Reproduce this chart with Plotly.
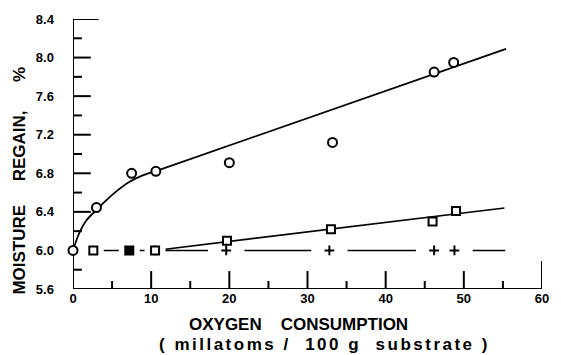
import plotly.graph_objects as go

# ---- data ----
circle_x = [0.0, 3.0, 7.5, 10.6, 20.0, 33.2, 46.2, 48.7]
circle_y = [6.00, 6.445, 6.80, 6.82, 6.91, 7.12, 7.85, 7.95]

square_open_x = [2.6, 10.5, 19.7, 33.0, 46.0, 49.0]
square_open_y = [6.00, 6.00, 6.10, 6.22, 6.30, 6.41]

square_filled_x = [7.2]
square_filled_y = [6.00]

plus_x = [10.5, 19.6, 32.8, 46.2, 48.8]
plus_y = [6.00, 6.00, 6.00, 6.00, 6.00]

# fitted curves
circle_curve_x = [0.0, 0.8, 1.7, 3.0, 4.0, 5.5, 7.2, 9.0, 10.5]
circle_curve_y = [6.00, 6.18, 6.31, 6.42, 6.50, 6.61, 6.71, 6.78, 6.82]
circle_line_x = [10.5, 55.4]
circle_line_y = [6.82, 8.09]

square_line_x = [10.5, 55.2]
square_line_y = [6.00, 6.44]

base_line_x = [0.0, 55.3]
base_line_y = [6.00, 6.00]

# axis ticks
x_ticks = [0, 10, 20, 30, 40, 50, 60]
x_minor_ticks = [5, 15, 25, 35, 45, 55]
y_ticks = [5.6, 6.0, 6.4, 6.8, 7.2, 7.6, 8.0, 8.4]
y_minor_ticks = [5.8, 6.2, 6.6, 7.0, 7.4, 7.8, 8.2]

FONT = "Liberation Sans"
BLACK = "black"
NBSP = "\u00a0"

W, H = 561, 355
ML, MR, MT, MB = 73, 13, 18, 66
X0, X1 = x_ticks[0], x_ticks[-1]
Y0, Y1 = y_ticks[0], y_ticks[-1]
# pixel -> data-unit conversions for tick lengths
px_x = (X1 - X0) / (W - ML - MR)
px_y = (Y1 - Y0) / (H - MT - MB)

fig = go.Figure()

# ---- axis frame and inward ticks drawn on the data axes ----
def seg_lists(pairs):
    xs, ys = [], []
    for (xa, ya), (xb, yb) in pairs:
        xs += [xa, xb, None]
        ys += [ya, yb, None]
    return xs, ys

frame = [((X0, Y0), (X0, Y1)), ((X0, Y0), (X1, Y0))]
for v in y_ticks[:-1]:
    frame.append(((X0, v), (X0 + 18 * px_x, v)))
frame.append(((X0, Y1), (X0 + 26 * px_x, Y1)))
for v in y_minor_ticks:
    frame.append(((X0, v), (X0 + 9 * px_x, v)))
for v in x_ticks[1:-1]:
    frame.append(((v, Y0), (v, Y0 + 18 * px_y)))
frame.append(((X1, Y0), (X1, Y0 + 28 * px_y)))
for v in x_minor_ticks:
    frame.append(((v, Y0), (v, Y0 + 8 * px_y)))
fx, fy = seg_lists(frame)
fig.add_trace(go.Scatter(x=fx, y=fy, mode="lines", cliponaxis=False,
                         line=dict(color=BLACK, width=2), hoverinfo="skip"))

# ---- data lines ----
fig.add_trace(go.Scatter(x=base_line_x, y=base_line_y, mode="lines",
                         line=dict(color=BLACK, width=1.6), hoverinfo="skip"))
fig.add_trace(go.Scatter(x=circle_curve_x, y=circle_curve_y, mode="lines",
                         line=dict(color=BLACK, width=1.8, shape="spline", smoothing=1.0),
                         hoverinfo="skip"))
fig.add_trace(go.Scatter(x=circle_line_x, y=circle_line_y, mode="lines",
                         line=dict(color=BLACK, width=1.8), hoverinfo="skip"))
fig.add_trace(go.Scatter(x=square_line_x, y=square_line_y, mode="lines",
                         line=dict(color=BLACK, width=1.6), hoverinfo="skip"))

# white gaps in the y=6.0 line around markers
gap_small_x = [circle_x[0]] + square_open_x[:2] + square_filled_x
gap_small_y = [circle_y[0]] + square_open_y[:2] + square_filled_y
fig.add_trace(go.Scatter(x=gap_small_x, y=gap_small_y, mode="markers",
                         marker=dict(symbol="line-ew", size=15,
                                     line=dict(color="white", width=6)),
                         hoverinfo="skip"))
fig.add_trace(go.Scatter(x=plus_x[1:], y=plus_y[1:], mode="markers",
                         marker=dict(symbol="line-ew", size=26,
                                     line=dict(color="white", width=6)),
                         hoverinfo="skip"))

# ---- markers ----
fig.add_trace(go.Scatter(x=plus_x, y=plus_y, mode="markers",
                         marker=dict(symbol="cross-thin", size=7,
                                     line=dict(color=BLACK, width=2))))
fig.add_trace(go.Scatter(x=circle_x, y=circle_y, mode="markers", cliponaxis=False,
                         marker=dict(symbol="circle", size=9, color="white",
                                     line=dict(color=BLACK, width=2))))
fig.add_trace(go.Scatter(x=square_open_x, y=square_open_y, mode="markers",
                         marker=dict(symbol="square", size=8, color="white",
                                     line=dict(color=BLACK, width=2))))
fig.add_trace(go.Scatter(x=square_filled_x, y=square_filled_y, mode="markers",
                         marker=dict(symbol="square", size=8, color=BLACK,
                                     line=dict(color=BLACK, width=2))))

tickfont = dict(family=FONT, size=13, color=BLACK)

fig.update_layout(
    width=W, height=H,
    margin=dict(l=ML, r=MR, t=MT, b=MB),
    paper_bgcolor="white", plot_bgcolor="white",
    showlegend=False,
    xaxis=dict(range=[X0, X1], tickmode="array", tickvals=x_ticks,
               ticktext=[f"<b>{v}</b>" for v in x_ticks],
               ticks="", showline=False, showgrid=False,
               zeroline=False, tickfont=tickfont),
    yaxis=dict(range=[Y0, Y1], tickmode="array", tickvals=y_ticks,
               ticktext=[f"<b>{v:.1f}</b>" + NBSP * 5 for v in y_ticks],
               ticks="", showline=False, showgrid=False,
               zeroline=False, tickfont=tickfont),
)

titlefont = dict(family=FONT, size=17, color=BLACK)
fig.add_annotation(text="<b>MOISTURE     REGAIN,      %</b>", xref="paper", yref="paper",
                   x=-0.116, y=0.40, textangle=-90, showarrow=False,
                   font=titlefont, xanchor="center", yanchor="middle")
fig.add_annotation(text="<b>OXYGEN    CONSUMPTION</b>", xref="paper", yref="paper",
                   x=0.48, y=-0.133, showarrow=False, font=titlefont,
                   xanchor="center", yanchor="middle")
fig.add_annotation(text='<b><span style="letter-spacing:2.5px">( millatoms /  100 g  substrate )</span></b>',
                   xref="paper", yref="paper",
                   x=0.536, y=-0.207, showarrow=False, font=titlefont,
                   xanchor="center", yanchor="middle")

fig.write_html("out.html")
